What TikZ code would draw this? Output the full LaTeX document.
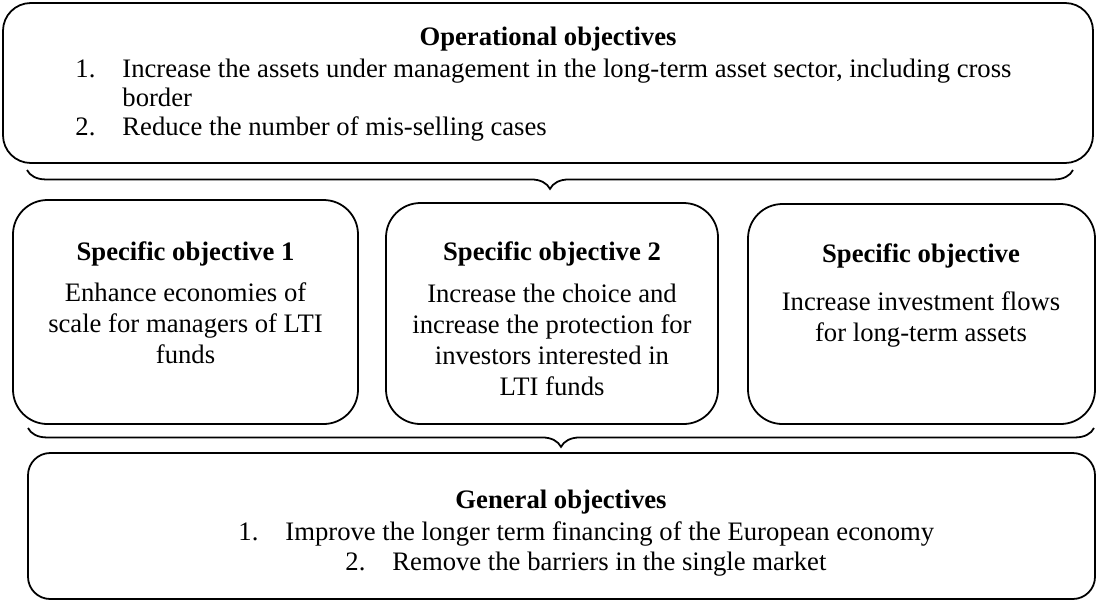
\documentclass[tikz,border=0pt]{standalone}
\usepackage{fontspec}
\setmainfont{Liberation Serif}
\usetikzlibrary{fit, decorations.pathreplacing}

\tikzset{
  objbox/.style={draw, line width=0.8pt, inner sep=0pt},
  txt/.style={inner sep=0pt, font=\fontsize{12pt}{13.8pt}\selectfont},
  item/.style={txt, anchor=base west},
  line/.style={txt, anchor=base},
  head/.style={txt, anchor=base, font=\fontsize{12pt}{13.8pt}\selectfont\bfseries},
  brc/.style={line width=0.8pt, decorate, decoration={brace, mirror, amplitude=8.5pt}}
}

\begin{document}
\begin{tikzpicture}[x=0.45pt, y=-0.45pt]
	\useasboundingbox (0,0) rectangle (1097,601);
	% operational objectives
	\node[objbox, rounded corners=12.5pt, fit={(3,3) (1093,163)}] (oper) {};
	\node[head] (operH) at (548,45) {Operational objectives};
	\node[item] (op1n) at (75,77) {1.};
	\node[item] (op1a) at (122,77) {Increase the assets under management in the long-term asset sector, including cross};
	\node[item] (op1b) at (122,106) {border};
	\node[item] (op2n) at (75,135) {2.};
	\node[item] (op2) at (122,135) {Reduce the number of mis-selling cases};
	\coordinate (bt1) at (27,170);
	\coordinate (bt2) at (1073,170);
	\draw[brc] (bt1) -- (bt2);
	% specific objectives
	\node[objbox, rounded corners=15.5pt, fit={(13,200) (358,424)}] (spec1) {};
	\node[head] (spec1H) at (185.5,260) {Specific objective 1};
	\node[line] (spec1a) at (185.5,301) {Enhance economies of};
	\node[line] (spec1b) at (185.5,332) {scale for managers of LTI};
	\node[line] (spec1c) at (185.5,363) {funds};
	\node[objbox, rounded corners=15.5pt, fit={(386,203) (718,424)}] (spec2) {};
	\node[head] (spec2H) at (552,260) {Specific objective 2};
	\node[line] (spec2a) at (552,302) {Increase the choice and};
	\node[line] (spec2b) at (552,333) {increase the protection for};
	\node[line] (spec2c) at (552,364) {investors interested in};
	\node[line] (spec2d) at (552,395) {LTI funds};
	\node[objbox, rounded corners=15.5pt, fit={(748,204) (1095,424)}] (spec3) {};
	\node[head] (spec3H) at (921,262) {Specific objective};
	\node[line] (spec3a) at (921,310) {Increase investment flows};
	\node[line] (spec3b) at (921,341) {for long-term assets};
	\coordinate (bb1) at (28,428);
	\coordinate (bb2) at (1094,428);
	\draw[brc] (bb1) -- (bb2);
	% general objectives
	\node[objbox, rounded corners=10pt, fit={(28,453) (1095,599)}] (gen) {};
	\node[head] (genH) at (561,508) {General objectives};
	\node[item] (gen1n) at (238,540) {1.};
	\node[item] (gen1) at (285,540) {Improve the longer term financing of the European economy};
	\node[item] (gen2n) at (345,570) {2.};
	\node[item] (gen2) at (392,570) {Remove the barriers in the single market};
\end{tikzpicture}
\end{document}
